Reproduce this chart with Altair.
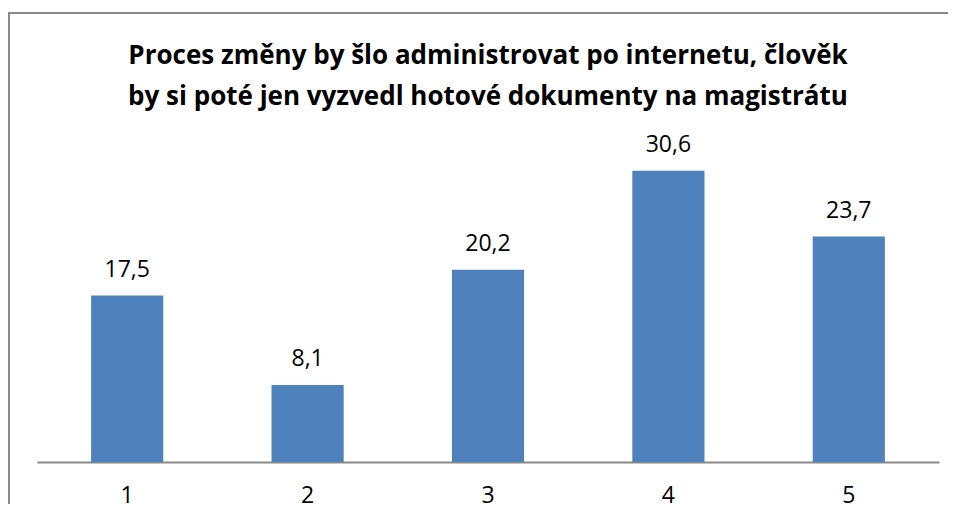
import altair as alt
import pandas as pd

categories = ["1", "2", "3", "4", "5"]
values = [17.5, 8.1, 20.2, 30.6, 23.7]
title_lines = [
    "Proces změny by šlo administrovat po internetu, člověk",
    "by si poté jen vyzvedl hotové dokumenty na magistrátu",
]

df = pd.DataFrame({"cat": categories, "value": values})

FONT = "Open Sans"
GRAY = "#898989"

base = alt.Chart(df).encode(
    x=alt.X("cat:N", sort=categories,
            scale=alt.Scale(paddingInner=0.6, paddingOuter=0.3),
            axis=alt.Axis(title=None, labelAngle=0, ticks=False, grid=False,
                          domainColor=GRAY, domainWidth=2, labelFont=FONT,
                          labelFontSize=23, labelColor="#000000", labelPadding=22)),
    y=alt.Y("value:Q", scale=alt.Scale(domain=[0, 35], nice=False), axis=None),
)

bars = base.mark_bar(color="#4F81BD")
labels = base.mark_text(baseline="alphabetic", dy=-19, font=FONT, fontSize=23,
                        color="#000000").transform_calculate(
    lbl="replace(format(datum.value, '.1f'), '.', ',')"
).encode(text="lbl:N")

border = alt.Chart(alt.Data(values=[{"a": 1}])).mark_rect(
    fill=None, stroke=GRAY, strokeWidth=2, clip=False
).encode(
    x=alt.value(-28), x2=alt.value(1000), y=alt.value(-116), y2=alt.value(700)
)

chart = alt.layer(border, bars, labels).properties(
    width=902, height=333,
    autosize=alt.AutoSizeParams(type="none"),
    padding={"left": 29, "top": 121, "right": 9, "bottom": 42},
    title=alt.TitleParams(title_lines, font=FONT, fontSize=26, fontWeight="bold",
                          color="#000000", anchor="middle", lineHeight=41,
                          offset=-98, frame="group"),
    background="white",
).configure_view(stroke=None)

chart.save("out.html", embed_options={"renderer": "svg", "actions": False})
